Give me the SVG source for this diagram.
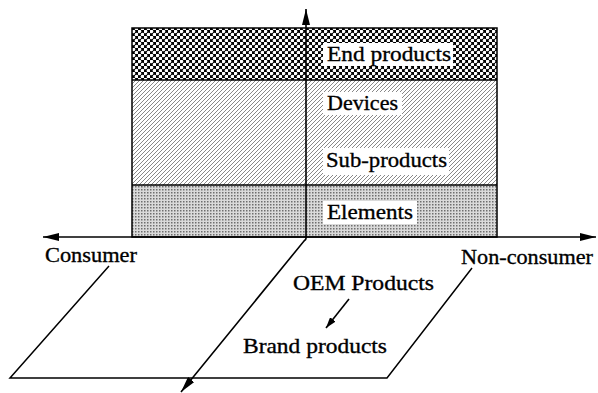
<svg xmlns="http://www.w3.org/2000/svg" width="598" height="393" viewBox="0 0 598 393">
  <style>
    .lbl { font-family: 'Liberation Serif', 'Times New Roman', 'DejaVu Serif', serif; font-size: 22px; fill: #000; stroke: #000; stroke-width: 0.35; }
    .edge { fill: none; stroke: #000; stroke-width: 1.5; }
    .ax { fill: none; stroke: #000; stroke-width: 1.6; }
    .knock { fill: #fff; }
  </style>
  <defs>
    <pattern id="pDots" width="6" height="6" patternUnits="userSpaceOnUse">
      <rect width="6" height="6" fill="#000"/>
      <circle cx="1.5" cy="1.5" r="1.8" fill="#fff"/>
      <circle cx="4.5" cy="4.5" r="1.8" fill="#fff"/>
    </pattern>
    <pattern id="pHatch" width="4" height="4" patternUnits="userSpaceOnUse">
      <rect width="4" height="4" fill="#fff"/>
      <path d="M-1,1 L1,-1 M0,4 L4,0 M3,5 L5,3" stroke="#7a7a7a" stroke-width="0.9"/>
    </pattern>
    <pattern id="pStipple" width="3" height="3" patternUnits="userSpaceOnUse">
      <rect width="3" height="3" fill="#dadada"/>
      <rect width="1.5" height="1.5" fill="#6e6e6e"/>
    </pattern>
    <marker id="arr" viewBox="0 0 16 8" refX="16" refY="4" markerWidth="16" markerHeight="8" markerUnits="userSpaceOnUse" orient="auto-start-reverse">
      <path d="M0,0 L16,4 L0,8 Z" fill="#000"/>
    </marker>
    <marker id="arrS" viewBox="0 0 11 7" refX="11" refY="3.5" markerWidth="11" markerHeight="7" markerUnits="userSpaceOnUse" orient="auto">
      <path d="M0,0 L11,3.5 L0,7 Z" fill="#000"/>
    </marker>
  </defs>

  <g id="end-products">
    <rect x="132" y="28" width="365" height="52" fill="url(#pDots)"/>
    <rect class="knock" x="323" y="43" width="130" height="23"/>
    <text class="lbl" x="327" y="61" textLength="124" lengthAdjust="spacingAndGlyphs">End products</text>
  </g>

  <g id="devices-subproducts">
    <rect x="132" y="80" width="365" height="105" fill="url(#pHatch)"/>
    <rect class="knock" x="323" y="92" width="79" height="23"/>
    <text class="lbl" x="327" y="110" textLength="71" lengthAdjust="spacingAndGlyphs">Devices</text>
    <rect class="knock" x="323" y="148" width="126" height="27"/>
    <text class="lbl" x="326" y="167" textLength="121" lengthAdjust="spacingAndGlyphs">Sub-products</text>
  </g>

  <g id="elements">
    <rect x="132" y="185" width="365" height="52" fill="url(#pStipple)"/>
    <rect class="knock" x="323" y="201" width="94" height="23"/>
    <text class="lbl" x="327" y="219" textLength="86" lengthAdjust="spacingAndGlyphs">Elements</text>
  </g>

  <g id="frame">
    <rect class="edge" x="132" y="28" width="365" height="209"/>
    <line class="edge" x1="132" y1="80" x2="497" y2="80"/>
    <line class="edge" x1="132" y1="185" x2="497" y2="185"/>
  </g>

  <g id="plane">
    <path class="edge" d="M109,266 L10,378 L387,378 L472,268"/>
  </g>

  <g id="connectors">
    <line class="ax" x1="306" y1="237" x2="306" y2="9" marker-end="url(#arr)"/>
    <line class="ax" x1="43" y1="237" x2="596" y2="237" marker-start="url(#arr)" marker-end="url(#arr)"/>
    <path class="ax" d="M306,236 Q307,239 304,241 L181,392" marker-end="url(#arr)"/>
    <line class="ax" x1="349" y1="299" x2="326" y2="328" marker-end="url(#arrS)"/>
  </g>

  <g id="axis-labels">
    <text class="lbl" x="45" y="262" textLength="92" lengthAdjust="spacingAndGlyphs">Consumer</text>
    <text class="lbl" x="461" y="264" textLength="132" lengthAdjust="spacingAndGlyphs">Non-consumer</text>
  </g>

  <g id="oem-products">
    <text class="lbl" x="293" y="290" textLength="141" lengthAdjust="spacingAndGlyphs">OEM Products</text>
  </g>
  <g id="brand-products">
    <text class="lbl" x="243" y="353" textLength="144" lengthAdjust="spacingAndGlyphs">Brand products</text>
  </g>
</svg>
